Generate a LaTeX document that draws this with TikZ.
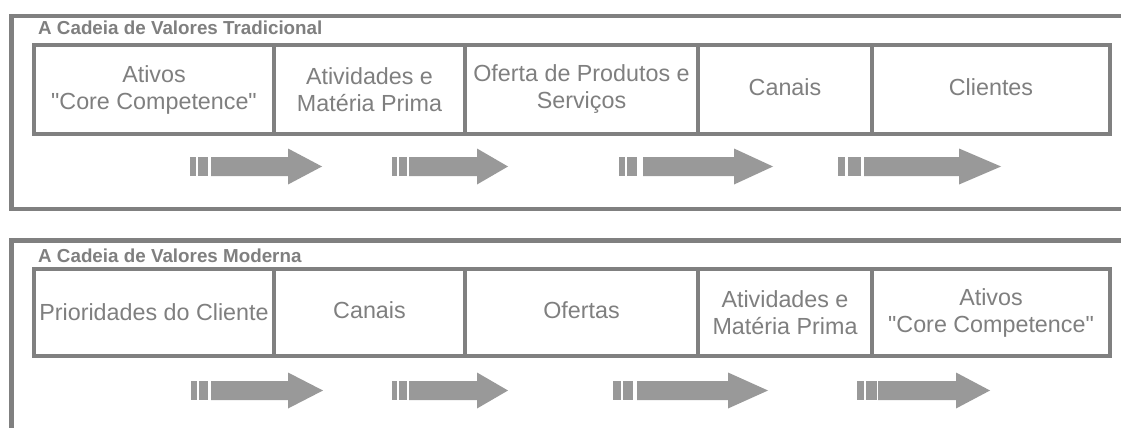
\documentclass[tikz,border=0pt]{standalone}
\usepackage{fontspec}
\setmainfont{Liberation Sans}[Ligatures=TeXOff]
\definecolor{framegray}{HTML}{808080}
\definecolor{arrowgray}{HTML}{999999}
\definecolor{textgray}{HTML}{7F7F7F}
\tikzset{
  cell/.style={draw=framegray, line width=4pt, rectangle, inner sep=0pt,
    align=center, text=textgray, font=\fontsize{23.3}{27}\selectfont},
  oneline/.style={text depth=5pt},
  frameline/.style={draw=framegray, line width=4.7pt, line join=miter},
  heading/.style={anchor=base west, inner sep=0pt, text=textgray,
    font=\bfseries\fontsize{18.8}{22}\selectfont},
  arrowfill/.style={fill=arrowgray},
}
% y, bar1 start, bar1 end, bar2 start, bar2 end, shaft start, head base, tip
\newcommand\flowarrow[8]{%
  \fill[arrowfill] (#2,#1-9.5) rectangle (#3,#1+9.5);
  \fill[arrowfill] (#4,#1-9.5) rectangle (#5,#1+9.5);
  \fill[arrowfill] (#6,#1-9.5) -- (#7,#1-9.5) -- (#7,#1-18) -- (#8,#1)
    -- (#7,#1+18) -- (#7,#1+9.5) -- (#6,#1+9.5) -- cycle;
}
\begin{document}
\begin{tikzpicture}[x=1pt,y=-1pt]
\useasboundingbox (0,0) rectangle (1121,428);
\fill[white] (0,0) rectangle (1121,428);
\clip (0,0) rectangle (1121,428);
% frames
\draw[frameline] (1140,16) -- (11.5,16) -- (11.5,209) -- (1140,209);
\draw[frameline] (1140,240.5) -- (11.5,240.5) -- (11.5,445);
% headings
\node[heading] (h1) at (38,35) {A Cadeia de Valores Tradicional};
\node[heading] (h2) at (38,262) {A Cadeia de Valores Moderna};
% top row
\node[cell, minimum width=240pt, minimum height=89pt] (t1) at (154,89.5) {Ativos\\"Core Competence"};
\node[cell, minimum width=191pt, minimum height=89pt] (t2) at (369.5,89.5) {Atividades e\\Matéria Prima};
\node[cell, minimum width=233pt, minimum height=89pt] (t3) at (581.5,89.5) {Oferta de Produtos e\\Serviços};
\node[cell, oneline, minimum width=174pt, minimum height=89pt] (t4) at (785,89.5) {Canais};
\node[cell, oneline, minimum width=238pt, minimum height=89pt] (t5) at (991,89.5) {Clientes};
% bottom row
\node[cell, minimum width=240pt, minimum height=87pt] (b1) at (154,312.5) {Prioridades do Cliente};
\node[cell, oneline, minimum width=191pt, minimum height=87pt] (b2) at (369.5,312.5) {Canais};
\node[cell, oneline, minimum width=233pt, minimum height=87pt] (b3) at (581.5,312.5) {Ofertas};
\node[cell, minimum width=174pt, minimum height=87pt] (b4) at (785,312.5) {Atividades e\\Matéria Prima};
\node[cell, minimum width=238pt, minimum height=87pt] (b5) at (991,312.5) {Ativos\\"Core Competence"};
% arrows top
\flowarrow{166.5}{190}{196}{198}{208}{211}{288}{322}
\flowarrow{166.5}{392}{397}{398.5}{407}{409}{477}{508}
\flowarrow{166.5}{619}{625}{627}{637}{643}{734}{773}
\flowarrow{166.5}{838}{845}{848}{861}{864}{959}{1001}
% arrows bottom
\flowarrow{390.5}{191}{197}{199}{208}{211}{288}{323}
\flowarrow{390.5}{392}{397}{398.5}{407}{409}{477}{508}
\flowarrow{390.5}{613}{621}{623}{633}{637}{728}{768}
\flowarrow{390.5}{857}{864}{866}{877}{878}{956}{990}
\end{tikzpicture}
\end{document}
